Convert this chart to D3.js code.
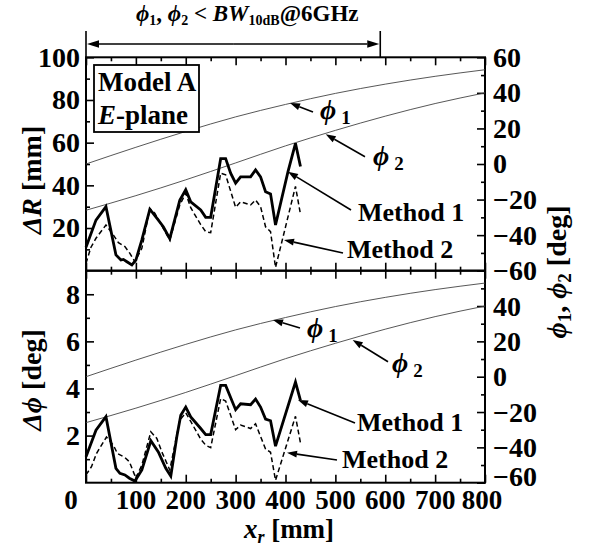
<!DOCTYPE html>
<html><head><meta charset="utf-8">
<script src="https://cdn.jsdelivr.net/npm/d3@7"></script>
<style>
body{margin:0;background:#fff;}
text{font-family:"Liberation Serif","Times New Roman",serif;font-weight:bold;fill:#000;}
</style></head>
<body><svg id="c" width="592" height="548"></svg>
<script>
// ---------- data ----------
const phiX   = [0, 100, 200, 300, 400, 500, 600, 700, 800];
const phi1   = [0, 9.4, 18.3, 26.5, 33.5, 39.7, 44.9, 49.3, 53];
const phi2   = [-26, -17.8, -8.9, 0.6, 10.2, 18.9, 26.9, 34, 40];

const dRm1X = [0, 20, 40, 60, 70, 75, 82, 92, 100, 112, 128, 142, 155, 168, 188, 200, 210, 230, 240, 250, 270, 280, 290, 300, 310, 330, 340, 350, 360, 370, 380, 405, 420, 430];
const dRm1  = [11, 23.7, 30, 7.4, 5, 5.3, 4.2, 2.7, 5, 14.4, 28.8, 24.6, 20.6, 15, 33, 38, 32.3, 28.5, 25, 25, 52.5, 52.5, 45.7, 41, 44, 44, 47.2, 44, 37, 36, 21.4, 46.4, 59.7, 48.8];
const dRm2X = [0, 10, 20, 40, 55, 65, 78, 88, 98, 112, 128, 138, 168, 188, 200, 210, 230, 240, 250, 270, 280, 300, 310, 330, 340, 350, 360, 370, 380, 420, 430];
const dRm2  = [3.5, 11, 15.2, 21.4, 16.7, 13.1, 11.3, 8.1, 4.2, 10.5, 29.2, 26.9, 14.4, 30.8, 36.3, 29.5, 21.6, 18.3, 17.8, 45.7, 44.9, 29.7, 32.3, 30.8, 33.1, 30, 20.6, 18.3, 1.5, 39.5, 26.5];

const dPm1X = [0, 20, 40, 60, 68, 78, 87, 98, 112, 130, 145, 160, 170, 182, 190, 200, 210, 230, 240, 250, 270, 280, 300, 310, 330, 340, 350, 360, 370, 380, 420, 430];
const dPm1  = [1.1, 2.23, 2.8, 0.61, 0.4, 0.33, 0.19, 0.07, 0.54, 1.78, 1.31, 0.61, 0.28, 1.94, 2.86, 3.21, 2.79, 2.3, 2.04, 2.04, 4.13, 4.13, 3.1, 3.35, 3.31, 3.55, 3.21, 2.7, 2.63, 1.55, 4.27, 3.49];
const dPm2X = [0, 11, 21, 41, 55, 63, 78, 87, 100, 112, 130, 142, 152, 168, 188, 200, 210, 230, 240, 250, 270, 280, 300, 310, 330, 340, 360, 370, 380, 420, 430];
const dPm2  = [0.33, 0.68, 1.24, 1.94, 1.59, 1.24, 1.07, 0.89, 0.19, 0.75, 2.16, 1.88, 1.31, 0.54, 2.65, 2.97, 2.6, 1.85, 1.59, 1.49, 3.57, 3.47, 2.25, 2.45, 2.3, 2.5, 1.43, 1.29, 0.1, 2.82, 1.69];

const xTicks   = [0, 100, 200, 300, 400, 500, 600, 700, 800];
const xMinor   = [50, 150, 250, 350, 450, 550, 650, 750];
const dRTicks  = [20, 40, 60, 80, 100];
const dRMinor  = [10, 30, 50, 70, 90];
const dPTicks  = [2, 4, 6, 8];
const dPMinor  = [1, 3, 5, 7];
const angTicksTop = [-60, -40, -20, 0, 20, 40, 60];
const angTicksBot = [-60, -40, -20, 0, 20, 40];
const angMinor = [-50, -30, -10, 10, 30, 50];
const bwLimit = 590;

// ---------- layout ----------
const svg = d3.select("#c");
const L = 86, R = 485, T1 = 57.3, B1 = 270.7, T2 = 270.7, B2 = 482.7;
const x  = d3.scaleLinear([0, 800], [L, R]);
const yR = d3.scaleLinear([0, 100], [B1, T1]);
const yA1 = d3.scaleLinear([-60, 60], [B1, T1]);
const yP = d3.scaleLinear([0, 9], [B2, T2]);
const yA2 = d3.scaleLinear([-60, 60], [B2, T2]);

function styleAxis(g, fs) {
  g.select(".domain").remove();
  g.selectAll(".tick line").attr("stroke", "#000").attr("stroke-width", 1.6);
  g.selectAll(".tick text").style("font-size", fs + "px").attr("font-family", "Liberation Serif").attr("font-weight", "bold");
}
function axis(gen, tx, ty, fs) {
  const g = svg.append("g").attr("transform", `translate(${tx},${ty})`).call(gen);
  styleAxis(g, fs || 28);
  return g;
}
const none = () => "";
// x axes
[[T1, "top"], [B1, "bottom"], [T2, "top"], [B2, "bottom"]].forEach(([yy, side]) => {
  const mk = side === "top" ? d3.axisTop : d3.axisBottom;
  axis(mk(x).tickValues(xTicks).tickSize(-8).tickFormat(none), 0, yy);
  axis(mk(x).tickValues(xMinor).tickSize(-4).tickFormat(none), 0, yy);
});
// left axes
axis(d3.axisLeft(yR).tickValues(dRTicks).tickSize(-8).tickPadding(6), L, 0);
axis(d3.axisLeft(yR).tickValues(dRMinor).tickSize(-4).tickFormat(none), L, 0);
axis(d3.axisLeft(yP).tickValues(dPTicks).tickSize(-8).tickPadding(6), L, 0);
axis(d3.axisLeft(yP).tickValues(dPMinor).tickSize(-4).tickFormat(none), L, 0);
// right axes
axis(d3.axisRight(yA1).tickValues(angTicksTop).tickSize(-8).tickPadding(8), R, 0);
axis(d3.axisRight(yA1).tickValues(angMinor).tickSize(-4).tickFormat(none), R, 0);
axis(d3.axisRight(yA2).tickValues(angTicksBot).tickSize(-8).tickPadding(8), R, 0)
  .selectAll(".tick text").filter(d => d === -60).attr("dy", "0.1em");
axis(d3.axisRight(yA2).tickValues(angMinor).tickSize(-4).tickFormat(none), R, 0);

// x tick labels
svg.append("g").selectAll("text").data(xTicks).join("text")
  .attr("x", d => x(d) + (d === 0 ? -15 : d === 800 ? -3 : 0))
  .attr("y", B2 + 26).attr("text-anchor", "middle").style("font-size", "27px").text(d => d);

// frames
[[T1, B1], [T2, B2]].forEach(([a, b]) => svg.append("rect").attr("x", L).attr("y", a).attr("width", R - L).attr("height", b - a)
  .attr("fill", "none").attr("stroke", "#000").attr("stroke-width", 2));

// ---------- curves ----------
const ln = (xs, ys, sx, sy, curve) => d3.line().x((d, i) => sx(xs[i])).y(d => sy(d)).curve(curve || d3.curveLinear)(ys);
function thin(ys, sy) {
  svg.append("path").attr("d", ln(phiX, ys, x, sy, d3.curveMonotoneX)).attr("fill", "none").attr("stroke", "#444").attr("stroke-width", 0.9);
}
thin(phi1, yA1); thin(phi2, yA1); thin(phi1, yA2); thin(phi2, yA2);
function m1(xs, ys, sy) {
  svg.append("path").attr("d", ln(xs, ys, x, sy)).attr("fill", "none").attr("stroke", "#000").attr("stroke-width", 2.8).attr("stroke-linejoin", "miter");
}
function m2(xs, ys, sy) {
  svg.append("path").attr("d", ln(xs, ys, x, sy)).attr("fill", "none").attr("stroke", "#000").attr("stroke-width", 1.5).attr("stroke-dasharray", "5,3");
}
m2(dRm2X, dRm2, yR); m1(dRm1X, dRm1, yR);
m2(dPm2X, dPm2, yP); m1(dPm1X, dPm1, yP);

// ---------- arrows ----------
function arrow(x1, y1, x2, y2, hl, hw) {
  hl = hl || 10; hw = hw || 3.5;
  const a = Math.atan2(y2 - y1, x2 - x1), c = Math.cos(a), s = Math.sin(a);
  const bx = x2 - hl * c, by = y2 - hl * s;
  svg.append("line").attr("x1", x1).attr("y1", y1).attr("x2", bx).attr("y2", by).attr("stroke", "#000").attr("stroke-width", 1.6);
  svg.append("path").attr("d", `M${x2},${y2}L${bx - hw * s},${by + hw * c}L${bx + hw * s},${by - hw * c}Z`).attr("fill", "#000");
}
// top range arrow
svg.append("line").attr("x1", L).attr("x2", L).attr("y1", 31).attr("y2", T1).attr("stroke", "#000").attr("stroke-width", 1.6);
svg.append("line").attr("x1", x(bwLimit)).attr("x2", x(bwLimit)).attr("y1", 31).attr("y2", T1).attr("stroke", "#000").attr("stroke-width", 1.6);
arrow((L + x(bwLimit)) / 2, 44, L + 1, 44, 12, 3.8);
arrow((L + x(bwLimit)) / 2, 44, x(bwLimit) - 1, 44, 12, 3.8);

const PHI = "\u03D5";
function phiLabel(px, py, sub) {
  const t = svg.append("text").attr("x", px).attr("y", py);
  t.append("tspan").text(PHI).style("font-size", "28px").style("font-style", "italic");
  t.append("tspan").text(sub).style("font-size", "19px").attr("dx", 5).attr("dy", 5);
}
function lbl(px, py, s, fs) {
  svg.append("text").attr("x", px).attr("y", py).style("font-size", (fs || 25) + "px").text(s);
}
// top panel
arrow(313, 112, 290, 103); phiLabel(320, 119, "1");
arrow(365, 156.7, 325.7, 134.3); phiLabel(373, 165, "2");
arrow(351, 210, 288, 171.7); lbl(358, 221, "Method 1", 26);
arrow(343, 253, 284, 240); lbl(347, 258, "Method 2", 26);
// bottom panel
arrow(300, 328, 273, 320); phiLabel(307, 337, "1");
arrow(388, 361.7, 352.7, 340); phiLabel(392, 372, "2");
arrow(355, 423, 298, 400); lbl(357, 431, "Method 1", 26);
arrow(337, 460, 287, 452.7); lbl(342, 468, "Method 2", 26);

// legend box
svg.append("rect").attr("x", 94).attr("y", 65).attr("width", 105).attr("height", 67).attr("fill", "#fff").attr("stroke", "#000").attr("stroke-width", 1.8);
lbl(98, 91, "Model A", 27);
const ep = svg.append("text").attr("x", 98).attr("y", 124).style("font-size", "27px");
ep.append("tspan").text("E").style("font-style", "italic");
ep.append("tspan").text("-plane");

// title
const tt = svg.append("text").attr("x", 136).attr("y", 21).style("font-size", "23px");
tt.append("tspan").text(PHI).style("font-style", "italic");
tt.append("tspan").text("1").style("font-size", "14px").attr("dy", 4);
tt.append("tspan").text(", ").attr("dy", -4);
tt.append("tspan").text(PHI).style("font-style", "italic");
tt.append("tspan").text("2").style("font-size", "14px").attr("dy", 4);
tt.append("tspan").text(" < ").attr("dy", -4);
tt.append("tspan").text("BW").style("font-style", "italic");
tt.append("tspan").text("10dB").style("font-size", "14px").attr("dy", 4);
tt.append("tspan").text("@6GHz").attr("dy", -4);

// axis titles
function vtitle(cx, cy, parts, fs) {
  const t = svg.append("text").attr("transform", `translate(${cx},${cy}) rotate(-90)`).attr("text-anchor", "middle").style("font-size", (fs || 28) + "px");
  parts.forEach(p => { const s = t.append("tspan").text(p[0]); if (p[1]) s.style("font-style", "italic"); if (p[2]) s.style("font-size", p[2] + "px"); if (p[3]) s.attr("dy", p[3]); });
}
vtitle(41, 180, [["ΔR", 1], ["  [mm]"]]);
vtitle(41, 380, [["Δ" + PHI, 1], ["  [deg]"]]);
vtitle(566, 272, [[PHI, 1], ["1", 0, 19, 5], [", ", 0, 0, -5], [PHI, 1], ["2", 0, 19, 5], ["  [deg]", 0, 0, -5]]);
const xt = svg.append("text").attr("x", 289).attr("y", 538).attr("text-anchor", "middle").style("font-size", "27px");
xt.append("tspan").text("x").style("font-style", "italic");
xt.append("tspan").text("r").style("font-style", "italic").style("font-size", "18px").attr("dy", 5);
xt.append("tspan").text(" [mm]").attr("dy", -5);
</script></body></html>
